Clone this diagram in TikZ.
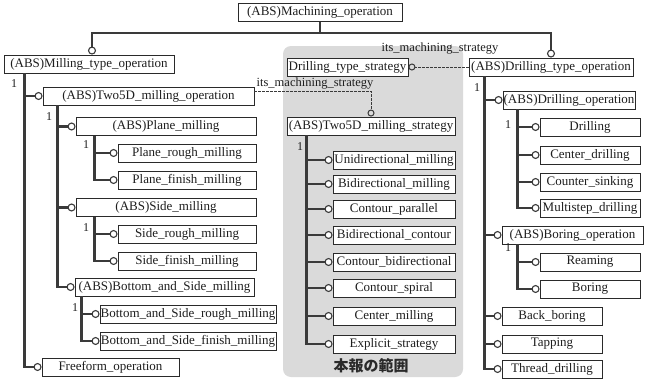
\documentclass[tikz,border=0pt]{standalone}
\usepackage{fontspec}
\setmainfont{Liberation Serif}
\newfontfamily\cjk{Noto Sans CJK JP}
\usetikzlibrary{arrows.meta}
\definecolor{lineg}{HTML}{3A3A3A}
\definecolor{boxg}{HTML}{2A2A2A}
\definecolor{shadeg}{HTML}{DADADA}
\definecolor{txt}{HTML}{1E1E1E}
\tikzset{
 bx/.style={draw=boxg, line width=0.9pt, fill=white, inner sep=0pt, minimum height=18pt, text=txt, font=\fontsize{13}{13}\selectfont},
 conn/.style={draw=lineg, line width=2.6pt, -{Circle[length=8pt,width=8pt,line width=1.1pt,fill=white]}},
 dashconn/.style={draw=lineg, line width=1pt, dash pattern=on 2.5pt off 1.5pt, -{Circle[open,length=7pt,width=7pt,line width=1pt]}},
 one/.style={font=\fontsize{12}{12}\selectfont, text=txt, inner sep=0pt},
 lbl/.style={font=\fontsize{12.5}{12.5}\selectfont, text=txt, inner sep=0pt},
 region/.style={fill=shadeg, rounded corners=8pt},
 cjklbl/.style={font=\cjk\bfseries\fontsize{15}{15}\selectfont, text=boxg, inner sep=0pt},
}
\newcommand\bx[5]{\node[bx, minimum width={#3-#2}] (#1) at ({(#2+#3)/2},#4) {#5};}
\begin{document}
\begin{tikzpicture}[x=1pt,y=-1pt]
\useasboundingbox (0,0) rectangle (651,380);
\fill[white] (0,0) rectangle (651,380);
% shaded scope region
\fill[region] (283,46) rectangle (463,377);
\node[cjklbl] (scopelbl) at (371,366) {本報の範囲};

% ---- boxes: left
\bx{mach}{238}{402}{12.5}{(ABS)Machining\_operation}
\bx{mto}{4}{174}{64}{(ABS)Milling\_type\_operation}
\bx{topop}{43}{254}{96}{(ABS)Two5D\_milling\_operation}
\bx{plane}{76}{256}{126.5}{(ABS)Plane\_milling}
\bx{prough}{118}{256}{153}{Plane\_rough\_milling}
\bx{pfinish}{118}{256}{180}{Plane\_finish\_milling}
\bx{side}{76}{256}{207.5}{(ABS)Side\_milling}
\bx{srough}{118}{256}{234}{Side\_rough\_milling}
\bx{sfinish}{118}{256}{261}{Side\_finish\_milling}
\bx{bs}{75}{254}{287}{(ABS)Bottom\_and\_Side\_milling}
\bx{bsrough}{100}{276}{314}{Bottom\_and\_Side\_rough\_milling}
\bx{bsfinish}{100}{276}{341}{Bottom\_and\_Side\_finish\_milling}
\bx{free}{42}{179}{367}{Freeform\_operation}

% ---- boxes: centre
\bx{dts}{287}{408}{67}{Drilling\_type\_strategy}
\bx{tstr}{287}{455}{126}{(ABS)Two5D\_milling\_strategy}
\bx{uni}{333}{455}{160}{Unidirectional\_milling}
\bx{bimill}{333}{455}{184}{Bidirectional\_milling}
\bx{cpar}{333}{455}{209}{Contour\_parallel}
\bx{bicont}{333}{455}{235}{Bidirectional\_contour}
\bx{contbi}{333}{455}{262}{Contour\_bidirectional}
\bx{cspiral}{333}{455}{288}{Contour\_spiral}
\bx{cmill}{333}{455}{316}{Center\_milling}
\bx{expl}{333}{455}{344}{Explicit\_strategy}

% ---- boxes: right
\bx{dto}{469}{633}{67}{(ABS)Drilling\_type\_operation}
\bx{dop}{503}{635}{100}{(ABS)Drilling\_operation}
\bx{drill}{540}{640}{127}{Drilling}
\bx{cdrill}{540}{640}{155}{Center\_drilling}
\bx{csink}{540}{640}{182}{Counter\_sinking}
\bx{mstep}{540}{640}{208}{Multistep\_drilling}
\bx{bop}{502}{643}{235}{(ABS)Boring\_operation}
\bx{ream}{540}{640}{262}{Reaming}
\bx{boring}{540}{640}{289}{Boring}
\bx{bback}{502}{602}{316}{Back\_boring}
\bx{tap}{502}{602}{344}{Tapping}
\bx{thread}{502}{602}{369}{Thread\_drilling}

% ---- top branches
\draw[conn] (mach.south) -- ++(0,11) -| ([xshift=3pt]mto.north);
\draw[conn] (mach.south) -- ++(0,11) -| (dto.north);

% ---- trunk start points
\coordinate (mtoT) at ([xshift=21pt]mto.south west);
\coordinate (topopT) at ([xshift=15pt]topop.south west);
\coordinate (planeT) at ([xshift=19pt]plane.south west);
\coordinate (sideT) at ([xshift=19pt]side.south west);
\coordinate (bsT) at ([xshift=7pt]bs.south west);
\coordinate (tstrT) at ([xshift=20pt]tstr.south west);
\coordinate (dtoT) at ([xshift=16pt]dto.south west);
\coordinate (dopT) at ([xshift=15pt]dop.south west);
\coordinate (bopT) at ([xshift=16pt]bop.south west);

% ---- left tree
\foreach \c in {topop,free} \draw[conn] (mtoT) |- (\c.west);
\foreach \c in {plane,side,bs} \draw[conn] (topopT) |- (\c.west);
\foreach \c in {prough,pfinish} \draw[conn] (planeT) |- (\c.west);
\foreach \c in {srough,sfinish} \draw[conn] (sideT) |- (\c.west);
\foreach \c in {bsrough,bsfinish} \draw[conn] (bsT) |- (\c.west);

% ---- centre tree
\foreach \c in {uni,bimill,cpar,bicont,contbi,cspiral,cmill,expl} \draw[conn] (tstrT) |- (\c.west);

% ---- right tree
\foreach \c in {dop,bop,bback,tap,thread} \draw[conn] (dtoT) |- (\c.west);
\foreach \c in {drill,cdrill,csink,mstep} \draw[conn] (dopT) |- (\c.west);
\foreach \c in {ream,boring} \draw[conn] (bopT) |- (\c.west);

% ---- cardinality labels
\node[one] (n1) at (14,84) {1};
\node[one] (n2) at (49,117) {1};
\node[one] (n3) at (86,145) {1};
\node[one] (n4) at (86,228) {1};
\node[one] (n5) at (75,308) {1};
\node[one] (n6) at (300,147) {1};
\node[one] (n7) at (477,88) {1};
\node[one] (n8) at (508,125) {1};
\node[one] (n9) at (508,248) {1};

% ---- strategy references
\draw[dashconn] ([yshift=5pt]topop.east) -| (tstr.north);
\node[lbl] (ms1) at (315,84) {its\_machining\_strategy};
\draw[dashconn] (dto.west) -- (dts.east);
\node[lbl] (ms2) at (440,49) {its\_machining\_strategy};
\end{tikzpicture}
\end{document}
